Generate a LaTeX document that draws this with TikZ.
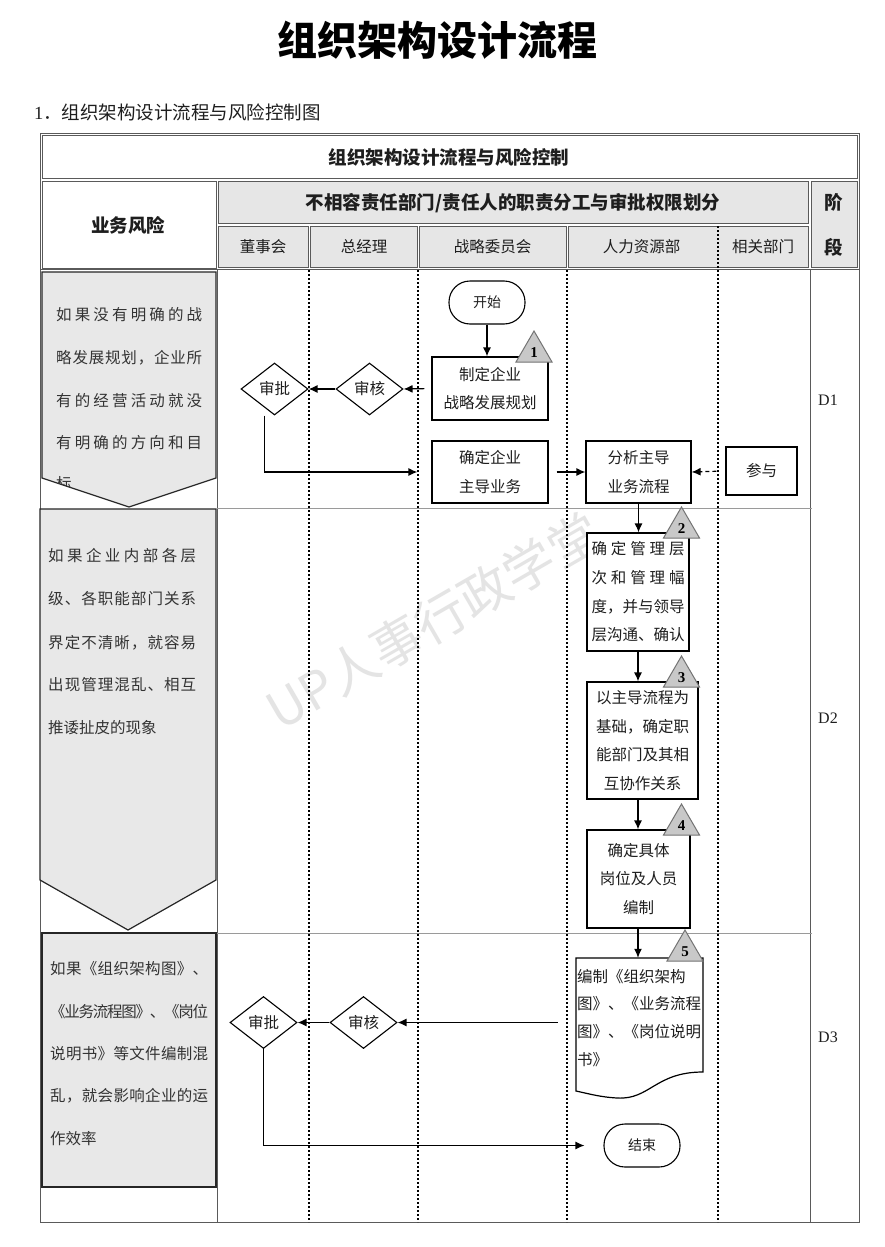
\documentclass[tikz,border=0pt]{standalone}
\usepackage{fontspec}
\setmainfont{Liberation Serif}
\newfontfamily\cjk{Noto Sans CJK SC}
\usetikzlibrary{arrows.meta,shapes.geometric,calc}
\definecolor{frame}{HTML}{5A5A5A}
\definecolor{hdrfill}{HTML}{E6E6E6}
\definecolor{riskfill}{HTML}{E8E8E8}
\definecolor{trifill}{HTML}{C8C8C8}
\definecolor{txt}{HTML}{1E1E1E}
\definecolor{wmark}{HTML}{E4E4E4}
\definecolor{rowline}{HTML}{9A9A9A}
\makeatletter
\newcommand\JLine[2]{\hbox to #1{\JL@a#2\JL@end}}
\def\JL@end{\JL@end}
\def\JL@a#1{#1\JL@b}
\def\JL@b#1{\ifx#1\JL@end\else\hss#1\expandafter\JL@b\fi}
\makeatother
\newcommand\numtri[4]{%
  \draw[tri] (#2-18,#3) -- (#2,#3-31) -- (#2+18,#3) -- cycle;
  \node[trinum] (#1) at (#2,#3-9) {#4};}
\begin{document}
\begin{tikzpicture}[x=1pt,y=-1pt,
  cellline/.style={draw=frame,line width=0.9pt},
  hdrcell/.style={draw=frame,line width=0.9pt,fill=hdrfill},
  hdrtext/.style={font=\cjk\bfseries\fontsize{18.5}{22}\selectfont,text=txt,inner sep=0},
  subtext/.style={font=\cjk\fontsize{15.5}{18}\selectfont,text=txt,inner sep=0},
  risk/.style={draw=black!85,line width=1.2pt,fill=riskfill},
  risktext/.style={font=\cjk\fontsize{15.5}{18}\selectfont,text=black!80,inner sep=0,anchor=base west},
  box/.style={draw=black,line width=1.2pt,fill=white,align=center,font=\cjk\fontsize{15.5}{28.7}\selectfont,text=txt,inner sep=0},
  term/.style={draw=black,line width=1.1pt,fill=white,rounded corners=21pt,minimum width=76pt,minimum height=43pt,inner sep=0,font=\cjk\fontsize{14}{16}\selectfont,text=txt},
  dia/.style={diamond,draw=black,line width=1.1pt,fill=white,minimum width=67pt,minimum height=52pt,inner sep=0,font=\cjk\fontsize{15.5}{18}\selectfont,text=txt},
  flow/.style={line width=1.2pt,-{Latex[length=9pt,width=8pt]}},
  dashflow/.style={line width=1.2pt,dash pattern=on 4pt off 3pt,-{Latex[length=9pt,width=8pt]}},
  laneline/.style={line width=2.2pt,dash pattern=on 2pt off 2pt},
  tri/.style={draw=black!55,line width=1pt,fill=trifill},
  trinum/.style={font=\bfseries\fontsize{15}{16}\selectfont,inner sep=0},
  dlabel/.style={font=\fontsize{16}{18}\selectfont,text=txt,inner sep=0},
  doctext/.style={font=\cjk\fontsize{15.5}{18}\selectfont,text=txt,inner sep=0,anchor=base west}
]
\useasboundingbox (0,0) rectangle (884,1247);
\fill[white] (0,0) rectangle (884,1247);

% titles
\node[font=\cjk\bfseries\fontsize{40}{44}\selectfont,inner sep=0] (title) at (437,40) {组织架构设计流程};
\node[font=\cjk\fontsize{18.5}{20}\selectfont,anchor=west,inner sep=0,text=txt] (subtitle) at (34,112) {{\rmfamily 1}．组织架构设计流程与风险控制图};

% watermark
\node[font=\cjk\fontsize{51}{54}\selectfont,text=wmark,rotate=30,inner sep=0] (wm) at (433,621) {UP人事行政学堂};

% table frame and header
\draw[cellline] (40,133) rectangle (859,1222);
\draw[cellline] (42,135) rectangle (857,178);
\node[hdrtext] (tabtitle) at (449,157) {组织架构设计流程与风险控制};
\draw[cellline] (42,181) rectangle (216,268);
\node[hdrtext] (riskhdr) at (128,225) {业务风险};
\draw[hdrcell] (218,181) rectangle (808,223);
\node[hdrtext] (sodhdr) at (513,203) {不相容责任部门/责任人的职责分工与审批权限划分};
\draw[hdrcell] (218,226) rectangle (308,267);
\draw[hdrcell] (310,226) rectangle (417,267);
\draw[hdrcell] (419,226) rectangle (566,267);
\draw[hdrcell] (568,226) rectangle (808,267);
\draw[hdrcell] (811,181) rectangle (857,267);
\node[subtext] (h1) at (263,247) {董事会};
\node[subtext] (h2) at (364,247) {总经理};
\node[subtext] (h3) at (492.5,247) {战略委员会};
\node[subtext] (h4) at (641.5,247) {人力资源部};
\node[subtext] (h5) at (763,247) {相关部门};
\node[hdrtext] (st1) at (834,202) {阶};
\node[hdrtext] (st2) at (834,247) {段};

% body grid
\draw[cellline] (40,269.5) -- (859,269.5);
\draw[cellline] (217,269.5) -- (217,1222);
\draw[cellline] (810,269.5) -- (810,1222);
\draw[draw=rowline,line width=0.8pt] (217,508) -- (812,508);
\draw[draw=rowline,line width=0.8pt] (217,933) -- (812,933);
\draw[laneline] (309,270) -- (309,1222);
\draw[laneline] (418,270) -- (418,1222);
\draw[laneline] (567,270) -- (567,1222);
\draw[laneline] (718,226) -- (718,1222);

% stage labels
\node[dlabel] (d1) at (828,400) {D1};
\node[dlabel] (d2) at (828,718) {D2};
\node[dlabel] (d3) at (828,1037) {D3};

% risk column
\draw[risk] (42,272) -- (216,272) -- (216,478) -- (129,507) -- (42,478) -- cycle;
\begin{scope}
\clip (42,272) -- (216,272) -- (216,478) -- (129,507) -- (42,478) -- cycle;
\node[risktext] (r1a) at (56,320) {\JLine{146pt}{如果没有明确的战}};
\node[risktext] (r1b) at (56,363) {\JLine{146pt}{略发展规划，企业所}};
\node[risktext] (r1c) at (56,406) {\JLine{146pt}{有的经营活动就没}};
\node[risktext] (r1d) at (56,448) {\JLine{146pt}{有明确的方向和目}};
\node[risktext] (r1e) at (56,489) {标};
\end{scope}
\draw[risk] (40,509) -- (216,509) -- (216,880) -- (128,930) -- (40,880) -- cycle;
\node[risktext] (r2a) at (48,561) {\JLine{148pt}{如果企业内部各层}};
\node[risktext] (r2b) at (48,604) {\JLine{148pt}{级、各职能部门关系}};
\node[risktext] (r2c) at (48,648) {\JLine{148pt}{界定不清晰，就容易}};
\node[risktext] (r2d) at (48,690) {\JLine{148pt}{出现管理混乱、相互}};
\node[risktext] (r2e) at (48,733) {推诿扯皮的现象};
\draw[risk] (42,933) rectangle (216,1187);
\node[risktext] (r3a) at (50,974) {\JLine{158pt}{如果《组织架构图》、}};
\node[risktext] (r3b) at (50,1017) {\JLine{158pt}{《业务流程图》、《岗位}};
\node[risktext] (r3c) at (50,1059) {\JLine{158pt}{说明书》等文件编制混}};
\node[risktext] (r3d) at (50,1101) {\JLine{158pt}{乱，就会影响企业的运}};
\node[risktext] (r3e) at (50,1144) {作效率};

% flow nodes
\node[term] (start) at (487,302.5) {开始};
\node[box,minimum width=116pt,minimum height=63pt] (zd) at (490,388.5) {制定企业\\战略发展规划};
\node[dia] (sh1) at (369.5,389) {审核};
\node[dia] (sp1) at (274.5,389) {审批};
\node[box,minimum width=116pt,minimum height=62pt] (zdyw) at (490,472) {确定企业\\主导业务};
\node[box,minimum width=105pt,minimum height=62pt] (fx) at (638.5,472) {分析主导\\业务流程};
\node[box,minimum width=71pt,minimum height=48pt] (cy) at (761.5,471) {参与};
\node[box,minimum width=102pt,minimum height=118pt] (b2) at (638,592) {\JLine{93pt}{确定管理层}\\\JLine{93pt}{次和管理幅}\\度，并与领导\\层沟通、确认};
\node[box,minimum width=111pt,minimum height=117pt] (b3) at (642.5,740.5) {以主导流程为\\基础，确定职\\能部门及其相\\互协作关系};
\node[box,minimum width=103pt,minimum height=98pt] (b4) at (638.5,879) {确定具体\\岗位及人员\\编制};
\node[inner sep=0,minimum width=127pt,minimum height=133pt] (doc) at (639.5,1024.5) {};
\draw[line width=1.2pt,fill=white] (576,958) -- (703,958) -- (703,1072)
  .. controls (655,1072) and (650,1100) .. (617,1098)
  .. controls (600,1097) and (590,1094) .. (576,1091) -- cycle;
\node[doctext] (dt1) at (577,982) {编制《组织架构};
\node[doctext] (dt2) at (577,1009) {\JLine{124pt}{图》、《业务流程}};
\node[doctext] (dt3) at (577,1037) {\JLine{124pt}{图》、《岗位说明}};
\node[doctext] (dt4) at (577,1065) {书》};
\node[dia] (sh2) at (363.5,1022.5) {审核};
\node[dia] (sp2) at (263.5,1022.5) {审批};
\node[term] (end) at (642,1145.5) {结束};

% numbered risk triangles
\numtri{n1}{534}{362}{1}
\numtri{n2}{681.5}{538}{2}
\numtri{n3}{681.5}{687}{3}
\numtri{n4}{681.5}{835}{4}
\numtri{n5}{685}{961}{5}

% connectors
\draw[flow] (start.south) -- (start.south |- zd.north);
\draw[flow,shorten <=7pt] (zd.west) -- (sh1.east);
\draw[flow] (sh1.west) -- (sp1.east);
\draw[flow,shorten >=14pt] ([xshift=-10pt]sp1.south) |- (zdyw.west);
\draw[flow,shorten <=8pt] (zdyw.east) -- (fx.west);
\draw[dashflow,shorten <=9pt] (cy.west) -- (fx.east);
\draw[flow] (fx.south) -- (fx.south |- b2.north);
\draw[flow] (b2.south) -- (b2.south |- b3.north);
\draw[flow] (b3.south -| b2.south) -- (b2.south |- b4.north);
\draw[flow] (b4.south -| b2.south) -- (b2.south |- doc.north);
\draw[flow,shorten <=18pt] (sh2.east -| doc.west) -- (sh2.east);
\draw[flow] (sh2.west) -- (sp2.east);
\draw[flow,shorten >=19pt] (sp2.south) |- (end.west);
\end{tikzpicture}
\end{document}
